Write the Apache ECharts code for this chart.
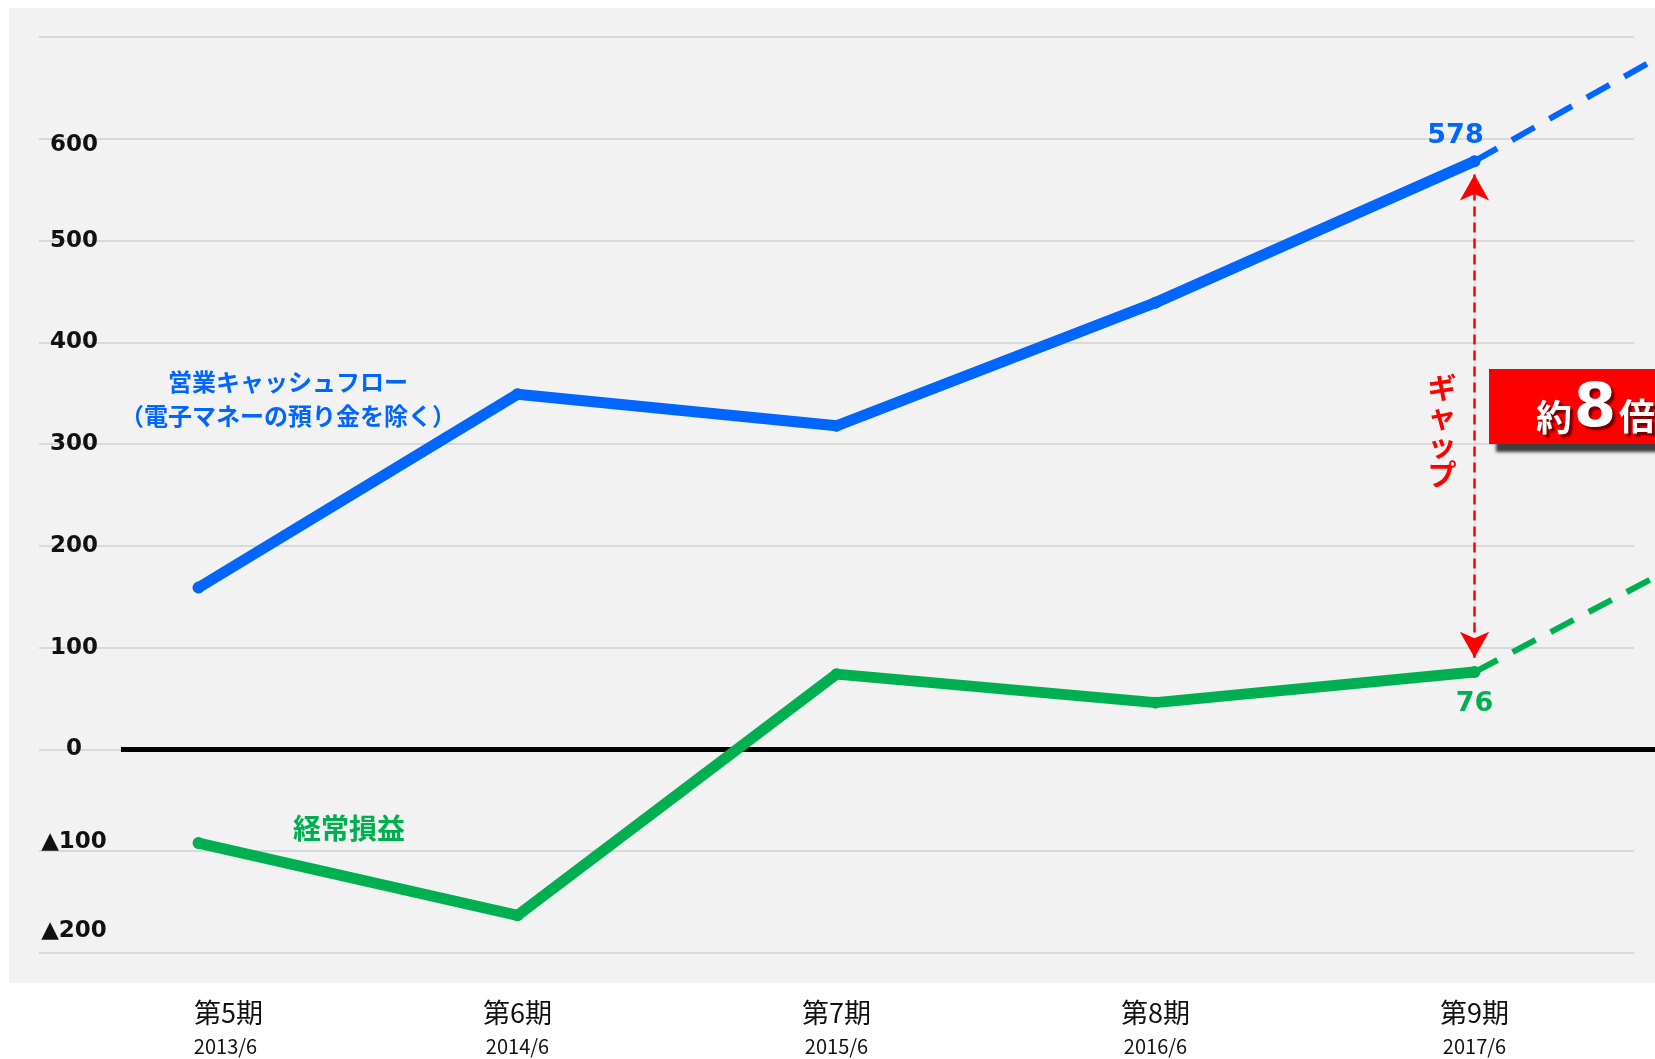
<!DOCTYPE html>
<html><head><meta charset="utf-8">
<script src="https://cdn.jsdelivr.net/npm/echarts@6.0.0/dist/echarts.min.js"></script>
<style>html,body{margin:0;padding:0;background:#fff}#c{width:1655px;height:1059px}</style>
</head><body><div id="c"></div>
<script>
// ---- data ----
const periods = ['第5期', '第6期', '第7期', '第8期', '第9期'];
const dates = ['2013/6', '2014/6', '2015/6', '2016/6', '2017/6'];
const cashFlow = [159, 349, 318, 439, 578];          // 営業キャッシュフロー（電子マネーの預り金を除く）
const ordinaryProfit = [-92, -163, 74, 46, 76];      // 経常損益
const cashFlowTrend = [[4, 578], [5, 755]];          // dashed continuation (x = period index)
const profitTrend = [[4, 76], [5, 241]];
const zeroLine = [[-0.243, 0], [5.5, 0]];
const gapRange = [565, 90];                          // arrow between 578 and 76 at 第9期
const yMin = -200, yMax = 700, yStep = 100;

const BLUE = '#0066FF', GREEN = '#00B050', RED = '#FF0000';
const NUM_FONT = '"DejaVu Sans", Verdana, sans-serif';
const JP_FONT = '"Noto Sans CJK JP", sans-serif';

const chart = echarts.init(document.getElementById('c'), null, {renderer: 'canvas'});

function yLabel(v) {
  if (v === yMax) return '';
  if (v === -200) return '{n2|▲200}';
  if (v === -100) return '{n1|▲100}';
  if (v === 600) return '{p6|600}';
  return '{n|' + v + '}';
}
const yRichBase = {fontFamily: NUM_FONT, fontWeight: 'bold', fontSize: 23, color: '#111'};
const shadowTxt = {textShadowColor: 'rgba(90,0,0,0.85)', textShadowOffsetX: 3, textShadowOffsetY: 3, textShadowBlur: 2};

const option = {
  backgroundColor: '#ffffff',
  animation: false,
  graphic: [
    {type: 'rect', z: -100, silent: true, shape: {x: 9, y: 8, width: 1646, height: 975}, style: {fill: '#f2f2f2'}},
    {type: 'text', z: 50, x: 288, y: 382, style: {text: '営業キャッシュフロー', font: 'bold 24px ' + JP_FONT, fill: BLUE, textAlign: 'center', textVerticalAlign: 'middle'}},
    {type: 'text', z: 50, x: 288, y: 416, style: {text: '（電子マネーの預り金を除く）', font: 'bold 24px ' + JP_FONT, fill: BLUE, textAlign: 'center', textVerticalAlign: 'middle'}},
    {type: 'text', z: 50, x: 349, y: 828, style: {text: '経常損益', font: 'bold 28px ' + JP_FONT, fill: GREEN, textAlign: 'center', textVerticalAlign: 'middle'}},
    {type: 'text', z: 50, x: 1442, y: 431, style: {text: 'ギ\nャ\nッ\nプ', font: 'bold 29px ' + JP_FONT, lineHeight: 29, fill: RED, textAlign: 'center', textVerticalAlign: 'middle'}},
    {type: 'rect', z: 60, shape: {x: 1489, y: 369, width: 220, height: 75},
      style: {fill: RED, shadowColor: 'rgba(30,30,30,0.85)', shadowOffsetX: 7, shadowOffsetY: 8, shadowBlur: 3}},
    {type: 'text', z: 61, x: 1554, y: 417, style: Object.assign({text: '約', font: 'bold 36px ' + JP_FONT, fill: '#fff', textAlign: 'center', textVerticalAlign: 'middle'}, shadowTxt)},
    {type: 'text', z: 61, x: 1595, y: 410, style: Object.assign({text: '8', font: 'bold 61px ' + NUM_FONT, fill: '#fff', textAlign: 'center', textVerticalAlign: 'middle'}, shadowTxt)},
    {type: 'text', z: 61, x: 1637, y: 416, style: Object.assign({text: '倍', font: 'bold 36px ' + JP_FONT, fill: '#fff', textAlign: 'center', textVerticalAlign: 'middle'}, shadowTxt)}
  ],
  grid: [
    {left: 39, width: 1595, top: 37, height: 916, containLabel: false, outerBoundsMode: 'none'},
    {left: 39, width: 1914, top: 37, height: 916, containLabel: false, outerBoundsMode: 'none'}
  ],
  xAxis: [
    {
      type: 'category', data: periods, boundaryGap: true, gridIndex: 0,
      axisLine: {show: false}, axisTick: {show: false}, splitLine: {show: false},
      axisLabel: {
        margin: 42, interval: 0,
        formatter: function (v, i) { return (i === 0 ? '{p0|' + v + '}\n{d0|' + dates[i] + '}' : '{p|' + v + '}\n{d|' + dates[i] + '}'); },
        rich: {
          p: {fontFamily: JP_FONT, fontSize: 27, color: '#111', lineHeight: 36},
          d: {fontFamily: JP_FONT, fontSize: 20, color: '#111', lineHeight: 30},
          p0: {fontFamily: JP_FONT, fontSize: 27, color: '#111', lineHeight: 36, padding: [0, 0, 0, 60]},
          d0: {fontFamily: JP_FONT, fontSize: 20, color: '#111', lineHeight: 30, padding: [0, 0, 0, 54]}
        }
      }
    },
    {type: 'value', min: -0.5, max: 5.5, show: false, gridIndex: 1}
  ],
  yAxis: [
    {
      type: 'value', min: yMin, max: yMax, interval: yStep, gridIndex: 0,
      axisLine: {show: false}, axisTick: {show: false},
      splitLine: {show: true, lineStyle: {color: '#d9d9d9', width: 2}},
      axisLabel: {
        inside: true, margin: 35, align: 'center', verticalAlign: 'middle',
        formatter: yLabel,
        rich: {
          n: yRichBase,
          n1: Object.assign({}, yRichBase, {padding: [0, 0, 19, 0]}),
          n2: Object.assign({}, yRichBase, {padding: [0, 0, 44, 0]}),
          p6: Object.assign({}, yRichBase, {padding: [12, 0, 0, 0]})
        }
      }
    },
    {type: 'value', min: yMin, max: yMax, interval: yStep, gridIndex: 1, show: false, splitLine: {show: false}}
  ],
  series: [
    {
      name: 'zero', type: 'line', xAxisIndex: 1, yAxisIndex: 1, data: zeroLine, z: 1,
      symbol: 'none', silent: true, lineStyle: {color: '#000', width: 5}
    },
    {
      name: '営業キャッシュフロー予測', type: 'line', xAxisIndex: 1, yAxisIndex: 1, data: cashFlowTrend, clip: false, z: 3,
      symbol: 'none', silent: true, lineStyle: {color: BLUE, width: 6, type: [26, 17], cap: 'butt'}
    },
    {
      name: '経常損益予測', type: 'line', xAxisIndex: 1, yAxisIndex: 1, data: profitTrend, clip: false, z: 3,
      symbol: 'none', silent: true, lineStyle: {color: GREEN, width: 6, type: [26, 17], cap: 'butt'}
    },
    {
      name: '営業キャッシュフロー', type: 'line', z: 4,
      data: cashFlow.map(function (v, i) {
        return i === cashFlow.length - 1 ? {value: v, label: {show: true, position: 'top', distance: 6, offset: [-19, 0],
          formatter: '{c}', fontFamily: NUM_FONT, fontWeight: 'bold', fontSize: 27, color: BLUE}} : v;
      }),
      symbol: 'circle', symbolSize: 12, itemStyle: {color: BLUE},
      lineStyle: {color: BLUE, width: 11, cap: 'round', join: 'round'},
      markLine: {
        silent: true, symbol: ['arrow', 'arrow'], symbolSize: [22, 26], z: 5,
        lineStyle: {color: RED, width: 2.5, type: [10, 6]},
        label: {show: false},
        data: [[{coord: [periods[4], gapRange[0]]}, {coord: [periods[4], gapRange[1]]}]]
      }
    },
    {
      name: '経常損益', type: 'line', z: 4,
      data: ordinaryProfit.map(function (v, i) {
        return i === ordinaryProfit.length - 1 ? {value: v, label: {show: true, position: 'bottom', distance: 12,
          formatter: '{c}', fontFamily: NUM_FONT, fontWeight: 'bold', fontSize: 27, color: GREEN}} : v;
      }),
      symbol: 'circle', symbolSize: 12, itemStyle: {color: GREEN},
      lineStyle: {color: GREEN, width: 11, cap: 'round', join: 'round'}
    }
  ]
};
chart.setOption(option);
</script>
</body></html>
